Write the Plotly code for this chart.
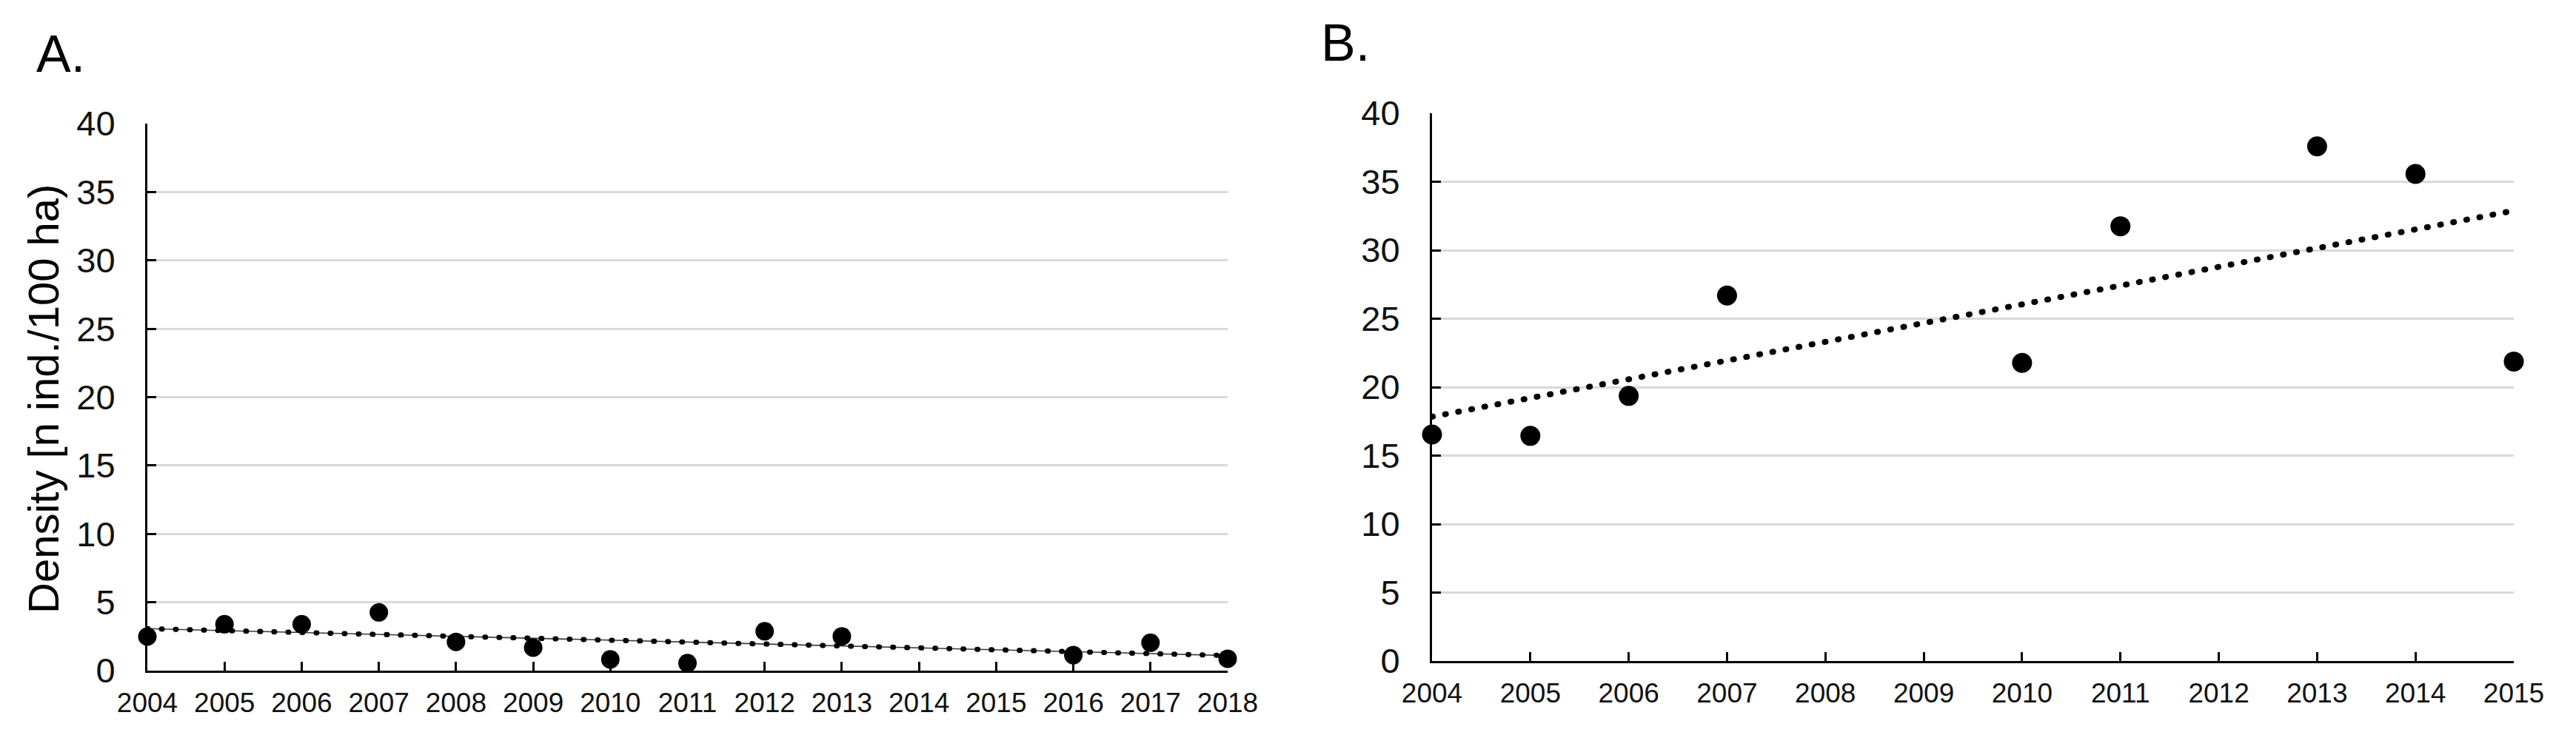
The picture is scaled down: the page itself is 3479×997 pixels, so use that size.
import numpy as np
import plotly.graph_objects as go

# ---------------- data ----------------
years_a = [2004, 2005, 2006, 2007, 2008, 2009, 2010, 2011, 2012, 2013, 2016, 2017, 2018]
density_a = [2.49, 3.39, 3.39, 4.26, 2.10, 1.68, 0.82, 0.55, 2.88, 2.51, 1.13, 2.04, 0.87]

years_b = [2004, 2005, 2006, 2007, 2010, 2011, 2013, 2014, 2015]
density_b = [16.54, 16.44, 19.36, 26.69, 21.77, 31.75, 37.58, 35.57, 21.87]

xticks_a = list(range(2004, 2019))
xticks_b = list(range(2004, 2016))
yticks = [0, 5, 10, 15, 20, 25, 30, 35, 40]
panel_labels = ["A.", "B."]
y_title = "Density [n ind./100 ha)"

# ---------------- helpers ----------------
W, H = 3479, 997
FONT = "Liberation Sans, Arial, sans-serif"


def px_x(p):
    return p / W


def px_y(p):
    return 1 - p / H


def trend(xs, ys, xr):
    k, b = np.polyfit(xs, ys, 1)
    xr = np.array(xr, dtype=float)
    return xr, k * xr + b


fig = go.Figure()

# Panel A
tx, ty = trend(years_a, density_a, [xticks_a[0], xticks_a[-1]])
fig.add_trace(go.Scatter(x=tx, y=ty, mode="lines", xaxis="x", yaxis="y",
                         line=dict(color="#3a3a3a", width=1.6), hoverinfo="skip",
                         showlegend=False, cliponaxis=False))
fig.add_trace(go.Scatter(x=tx, y=ty, mode="lines", xaxis="x", yaxis="y",
                         line=dict(color="black", width=7, dash="1px,18px"), hoverinfo="skip",
                         showlegend=False, cliponaxis=False))
fig.add_trace(go.Scatter(x=years_a, y=density_a, mode="markers", xaxis="x", yaxis="y",
                         marker=dict(color="black", size=25, line=dict(width=0)),
                         showlegend=False, cliponaxis=False))

# Panel B
tx, ty = trend(years_b, density_b, [xticks_b[0], xticks_b[-1]])
fig.add_trace(go.Scatter(x=tx, y=ty, mode="lines", xaxis="x2", yaxis="y2",
                         line=dict(color="black", width=8, dash="1px,17px"), hoverinfo="skip",
                         showlegend=False, cliponaxis=False))
fig.add_trace(go.Scatter(x=years_b, y=density_b, mode="markers", xaxis="x2", yaxis="y2",
                         marker=dict(color="black", size=27, line=dict(width=0)),
                         showlegend=False, cliponaxis=False))

common_x = dict(ticks="inside", ticklen=12, tickwidth=3, tickcolor="black",
                showline=True, linecolor="black", linewidth=3, showgrid=False,
                zeroline=False, ticklabelstandoff=9, automargin=False,
                tickfont=dict(family=FONT, size=37, color="#111111"))
common_y = dict(range=[0, 40], tickvals=yticks, ticks="inside", ticklen=12, tickwidth=3,
                tickcolor="black", showline=True, linecolor="black", linewidth=3,
                showgrid=True, gridcolor="#d9d9d9", gridwidth=3, zeroline=False,
                ticklabelstandoff=31, automargin=False,
                tickfont=dict(family=FONT, size=47, color="#111111"))

fig.update_layout(
    template="none",
    width=W, height=H,
    margin=dict(l=0, r=0, t=0, b=0, pad=0, autoexpand=False),
    paper_bgcolor="white", plot_bgcolor="white",
    showlegend=False,
    xaxis=dict(domain=[px_x(199), px_x(1658)], range=[xticks_a[0], xticks_a[-1]],
               tickvals=xticks_a, anchor="y", **common_x),
    yaxis=dict(domain=[px_y(906), px_y(167)], anchor="x", **common_y),
    xaxis2=dict(domain=[px_x(1934), px_x(3395)], range=[xticks_b[0], xticks_b[-1]],
                tickvals=xticks_b, anchor="y2", **common_x),
    yaxis2=dict(domain=[px_y(893), px_y(153)], anchor="x2", **common_y),
    annotations=[
        dict(text=panel_labels[0], xref="paper", yref="paper", x=px_x(48), y=px_y(73),
             xanchor="left", yanchor="middle", showarrow=False, borderpad=0,
             font=dict(family=FONT, size=70, color="black")),
        dict(text=panel_labels[1], xref="paper", yref="paper", x=px_x(1783), y=px_y(58),
             xanchor="left", yanchor="middle", showarrow=False, borderpad=0,
             font=dict(family=FONT, size=70, color="black")),
        dict(text=y_title, xref="paper", yref="paper", x=px_x(58), y=px_y(539),
             xanchor="center", yanchor="middle", textangle=-90, showarrow=False,
             font=dict(family=FONT, size=58, color="black")),
    ],
)

post = ("document.body.style.margin='0';document.body.style.overflow='hidden';"
        "document.querySelectorAll('.scatterlayer .js-line').forEach("
        "function(p){p.style.strokeLinecap='round';});")
fig.write_html("out.html", post_script=post, config={"displayModeBar": False})
